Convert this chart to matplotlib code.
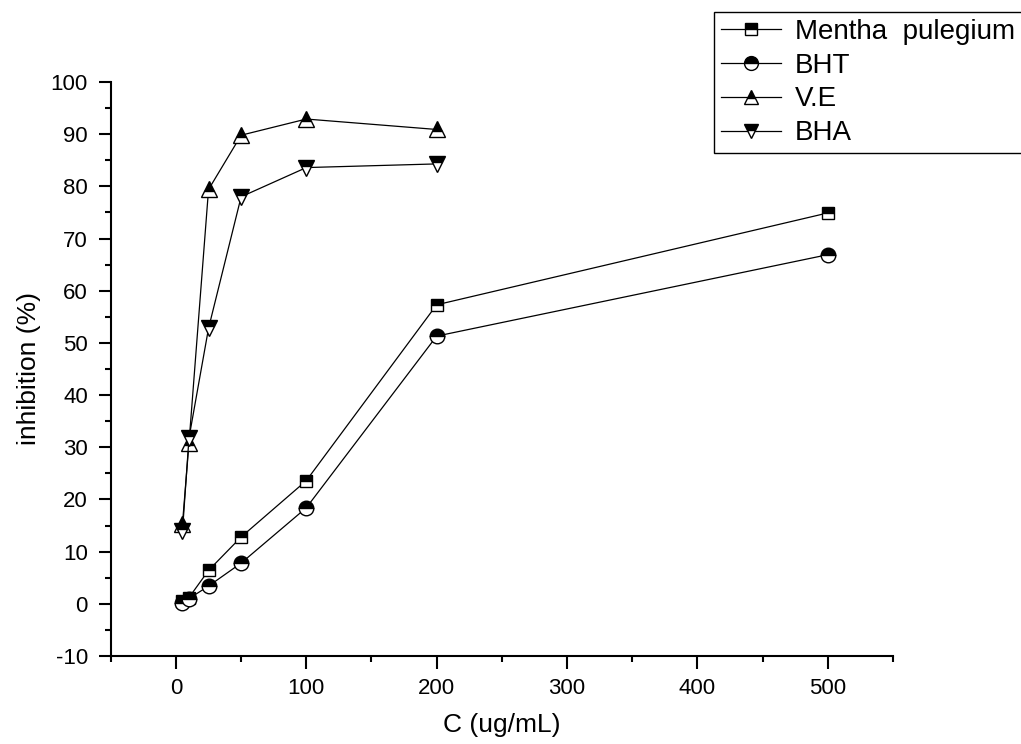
import matplotlib
matplotlib.use('Agg')
import matplotlib.pyplot as plt
from matplotlib.ticker import MultipleLocator

plt.rcParams['font.family'] = ['Liberation Sans', 'DejaVu Sans']
plt.rcParams['axes.unicode_minus'] = False

# concentrations (ug/mL)
conc = [5, 10, 25, 50, 100, 200, 500]
conc_std = [5, 10, 25, 50, 100, 200]

# inhibition (%)
mentha = [0.6, 1.2, 6.4, 12.8, 23.6, 57.3, 74.9]
bht = [0.2, 1.0, 3.4, 7.8, 18.4, 51.3, 66.9]
ve = [15.3, 30.8, 79.4, 89.8, 92.9, 90.9]
bha = [13.9, 31.8, 52.8, 78.0, 83.6, 84.3]

labels = ['Mentha  pulegium', 'BHT', 'V.E', 'BHA']

fig = plt.figure(figsize=(10.21, 7.44), dpi=100)
ax = fig.add_axes([0.1085, 0.1183, 0.766, 0.7715])

common = dict(color='black', lw=0.9, markeredgecolor='black', markeredgewidth=1.0,
              markerfacecolor='black', markerfacecoloralt='white', fillstyle='top')

ax.plot(conc, mentha, marker='s', ms=9, label=labels[0], **common)
ax.plot(conc, bht, marker='o', ms=10.5, label=labels[1], **common)
ax.plot(conc_std, ve, marker='^', ms=11, label=labels[2], **common)
ax.plot(conc_std, bha, marker='v', ms=11, label=labels[3], **common)

ax.set_xlim(-50, 550)
ax.set_ylim(-10, 100)
ax.xaxis.set_major_locator(MultipleLocator(100))
ax.xaxis.set_minor_locator(MultipleLocator(50))
ax.yaxis.set_major_locator(MultipleLocator(10))
ax.yaxis.set_minor_locator(MultipleLocator(5))

for s in ['top', 'right']:
    ax.spines[s].set_visible(False)
for s in ['left', 'bottom']:
    ax.spines[s].set_linewidth(1.5)

ax.tick_params(which='major', direction='out', length=9, width=1.5, labelsize=16)
ax.tick_params(which='minor', direction='out', length=4.5, width=1.5)
ax.tick_params(axis='y', which='major', pad=7.5)
ax.tick_params(axis='x', which='major', pad=7)

ax.set_xlabel('C (ug/mL)', fontsize=19, labelpad=10)
ax.set_ylabel('inhibition (%)', fontsize=19, labelpad=7)

leg = fig.legend(loc='upper left', bbox_to_anchor=(714 / 1021, 1 - 12 / 744),
                 fontsize=20, frameon=True, fancybox=False, framealpha=1,
                 edgecolor='black', handlelength=2.16, handletextpad=0.5,
                 labelspacing=0.28, borderpad=0.25, borderaxespad=0, markerscale=0.95)
leg.get_frame().set_linewidth(1.0)

fig.savefig('out.png', dpi=100)
